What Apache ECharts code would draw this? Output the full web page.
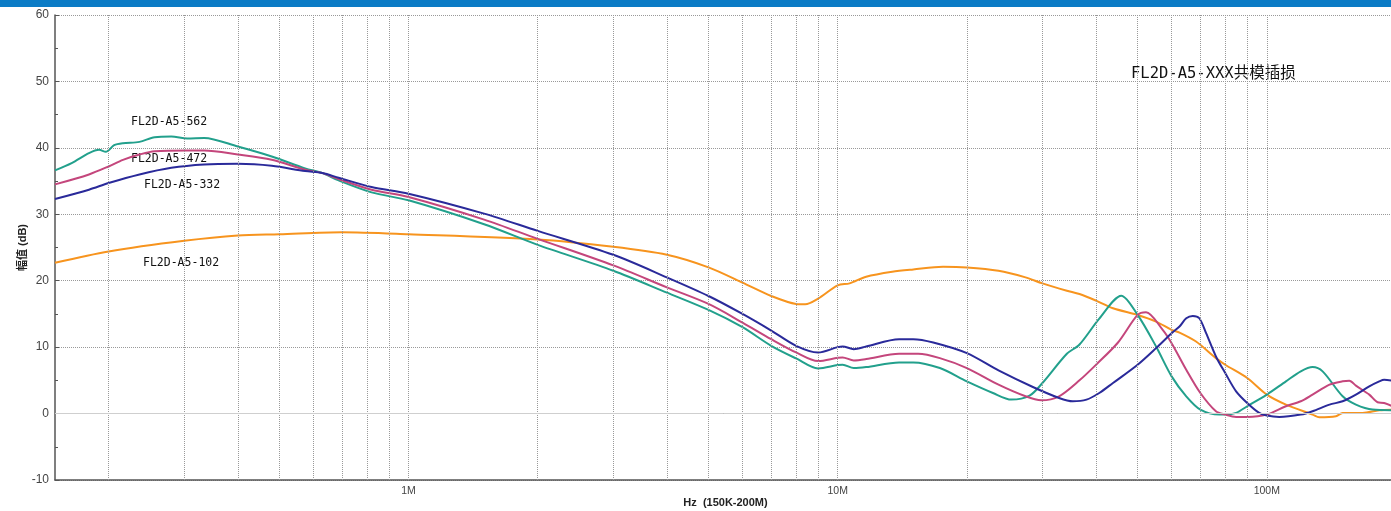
<!DOCTYPE html>
<html><head><meta charset="utf-8">
<script src="https://cdn.jsdelivr.net/npm/echarts@6/dist/echarts.min.js"></script>
<style>html,body{margin:0;padding:0;background:#fff}#c{width:1391px;height:511px}</style>
</head><body><div id="c"></div>
<script>
// Frequencies in MHz, values in dB
const f562 = [0.15,0.164,0.18,0.19,0.197,0.206,0.216,0.236,0.256,0.28,0.305,0.334,0.4,0.48,0.574,0.63,0.687,0.82,1,1.5,2,3,4,5,6,7,8,9,10,10.27,10.9,11.65,13.9,15,17.3,20,23,25.4,28,30,34.2,36.6,40.7,45.8,50,55.2,60,64.9,70,77.5,80,84.8,90,100,110.8,120,127.8,134.9,150.2,161.3,176.4,200];
const v562 = [36.6,37.7,39.2,39.7,39.4,40.4,40.7,40.9,41.6,41.7,41.4,41.5,40.2,38.7,36.9,36.2,35.1,33.3,32.1,28.5,25.4,21.5,18.2,15.6,13.0,10.2,8.3,6.8,7.3,7.35,6.85,7.0,7.7,7.7,6.85,4.85,3.1,2.1,2.7,4.6,9.0,10.4,14.3,17.75,14.85,10.1,5.6,2.6,0.6,-0.15,-0.15,0.1,1.1,2.85,4.85,6.35,7.0,6.35,2.6,1.35,0.6,0.5];

const f472 = [0.15,0.18,0.2,0.216,0.236,0.256,0.305,0.334,0.4,0.48,0.574,0.63,0.687,0.82,1,1.5,2,3,4,5,6,7,8,9,10,10.27,10.9,11.65,13.9,15.4,17.3,20,23.7,27.4,29.8,32.8,36.6,40,45,50,52.3,57.2,60,64.9,70,76.1,80,84.8,90,100,110.8,120,127.8,140,150.2,155.7,161.3,173.3,181.2,187.7,200];
const v472 = [34.5,36.0,37.2,38.2,39.0,39.5,39.6,39.6,39.0,38.2,36.7,36.2,35.3,33.7,32.6,29.2,26.3,22.3,19.0,16.5,13.7,11.2,9.2,7.9,8.4,8.45,8.0,8.2,9.0,9.0,8.35,6.85,4.35,2.6,2.0,2.6,5.0,7.35,10.7,14.85,15.25,12.6,10.6,6.6,3.1,0.35,-0.15,-0.5,-0.5,-0.15,1.1,1.85,2.85,4.35,4.85,4.95,4.2,2.85,1.7,1.6,0.85];

const f332 = [0.15,0.18,0.2,0.236,0.28,0.334,0.4,0.48,0.574,0.63,0.687,0.82,1,1.5,2,3,4,5,6,7,8,9,10,10.27,10.9,11.65,13.9,15,16.7,20,23.7,28.5,32.8,35.3,38,40.7,43.8,50,55.2,60,62.6,64.9,67.2,69.6,72.2,76.1,80,84.8,90,96,100,106.9,120,127.8,140,150.2,161.3,173.3,182.8,187.7,200];
const v332 = [32.3,33.7,34.7,36.0,37.0,37.5,37.6,37.3,36.5,36.2,35.5,34.1,33.1,30.1,27.5,23.9,20.5,17.7,15.0,12.5,10.2,9.2,10.0,10.1,9.7,10.1,11.2,11.2,10.7,9.1,6.5,4.0,2.35,1.85,2.1,3.1,4.6,7.35,9.85,12.1,13.1,14.35,14.7,14.35,12.1,8.6,6.1,3.35,1.6,0.1,-0.3,-0.5,-0.15,0.35,1.35,1.85,2.85,4.1,4.85,5.1,4.85];

const f102 = [0.15,0.2,0.3,0.4,0.5,0.7,1,2,3,4,5,6,7,8,8.4,9,10,10.66,11.65,13.4,15,17.6,20,23.7,27.4,30,34.2,36.6,40,43.8,50,55.2,60,62.6,68.4,76.1,80,90,100,110.8,127.8,132.5,144.9,150.2,167.2,182.8,200];
const v102 = [22.7,24.4,26.0,26.8,27.0,27.3,27.0,26.2,25.1,23.9,22.0,19.7,17.7,16.5,16.45,17.3,19.3,19.6,20.6,21.35,21.7,22.1,22.0,21.5,20.5,19.6,18.5,18.0,17.0,15.85,14.85,13.85,12.6,12.2,10.85,8.35,7.35,5.35,2.85,1.35,-0.15,-0.55,-0.4,0.1,0.1,0.5,0.6];

const seriesNames = ['FL2D-A5-102','FL2D-A5-562','FL2D-A5-472','FL2D-A5-332'];
const xGridTicks = [0.2,0.3,0.4,0.5,0.6,0.7,0.8,0.9,1,2,3,4,5,6,7,8,9,10,20,30,40,50,60,70,80,90,100,200];
const xLabelTicks = [1,10,100];
const xLabelText = ['1M','10M','100M'];
const xName = 'Hz  (150K-200M)';
const yName = '幅值 (dB)';
const chartTitle = 'FL2D-A5-XXX共模插损';

const pairs = (f,v) => f.map((x,i)=>[x,v[i]]);
const chart = echarts.init(document.getElementById('c'), null, {renderer:'canvas'});
const monoFont = '"DejaVu Sans Mono","Noto Sans CJK SC",monospace';
const mk = (name,f,v,color) => ({
  name, type:'line', data:pairs(f,v), showSymbol:false, smooth:0.3,
  lineStyle:{color, width:2}, itemStyle:{color}, z:3, silent:true
});
chart.setOption({
  animation:false,
  grid:{left:55, right:-5, top:15, bottom:31, outerBoundsMode:'none', containLabel:false},
  xAxis:{
    type:'log', logBase:10, min:0.15, max:200,
    name:xName, nameLocation:'middle', nameGap:17, nameMoveOverlap:false,
    nameTextStyle:{fontSize:11, fontWeight:'bold', color:'#222', fontFamily:'Liberation Sans, Arial'},
    axisLine:{onZero:false, lineStyle:{color:'#555', width:1.5}},
    axisTick:{show:false},
    splitLine:{show:false},
    axisLabel:{fontSize:10.5, color:'#444', margin:6, fontFamily:'Liberation Sans, Arial',
      formatter:(v)=>{ for(let i=0;i<xLabelTicks.length;i++){ if(Math.abs(Math.log10(v)-Math.log10(xLabelTicks[i]))<1e-6) return xLabelText[i]; } return ''; }}
  },
  yAxis:{
    type:'value', min:-10, max:60, interval:10,
    name:yName, nameLocation:'middle', nameGap:27, nameRotate:90, nameMoveOverlap:false,
    nameTextStyle:{fontSize:11, fontWeight:'bold', color:'#222', fontFamily:'Liberation Sans, "Noto Sans CJK SC"'},
    axisLine:{show:true, onZero:false, lineStyle:{color:'#555', width:1.5}},
    axisTick:{show:true, inside:true, length:4, lineStyle:{color:'#555'}},
    minorTick:{show:true, splitNumber:2, length:3, lineStyle:{color:'#555'}},
    splitLine:{show:true, lineStyle:{type:'dotted', color:'#999', width:1}},
    axisLabel:{fontSize:12, color:'#444', margin:6, fontFamily:'Liberation Sans, Arial'}
  },
  series:[
    { name:'grid', type:'line', data:[], silent:true, z:1,
      markLine:{ silent:true, symbol:['none','none'], label:{show:false}, animation:false,
        lineStyle:{type:'dotted', color:'#999', width:1},
        data: xGridTicks.map(t=>({xAxis:t})).concat([{yAxis:0, lineStyle:{type:'solid', color:'#cfcfcf', width:1}}]) } },
    mk(seriesNames[0], f102, v102, '#f7941e'),
    mk(seriesNames[1], f562, v562, '#22a08c'),
    mk(seriesNames[2], f472, v472, '#c4467c'),
    mk(seriesNames[3], f332, v332, '#2a2a9a')
  ],
  graphic:[
    {type:'rect', left:0, top:0, shape:{width:1391, height:7}, style:{fill:'#0b7cc6'}, silent:true},
    {type:'text', x:131, y:122.5, style:{text:seriesNames[1], font:'11.5px '+monoFont, fill:'#111', verticalAlign:'middle'}},
    {type:'text', x:131, y:159.3, style:{text:seriesNames[2], font:'11.5px '+monoFont, fill:'#111', verticalAlign:'middle'}},
    {type:'text', x:144, y:185, style:{text:seriesNames[3], font:'11.5px '+monoFont, fill:'#111', verticalAlign:'middle'}},
    {type:'text', x:143, y:263.3, style:{text:seriesNames[0], font:'11.5px '+monoFont, fill:'#111', verticalAlign:'middle'}},
    {type:'text', x:1131, y:73.5, style:{text:chartTitle, font:'15.5px '+monoFont, fill:'#111', verticalAlign:'middle'}}
  ]
});
</script></body></html>
